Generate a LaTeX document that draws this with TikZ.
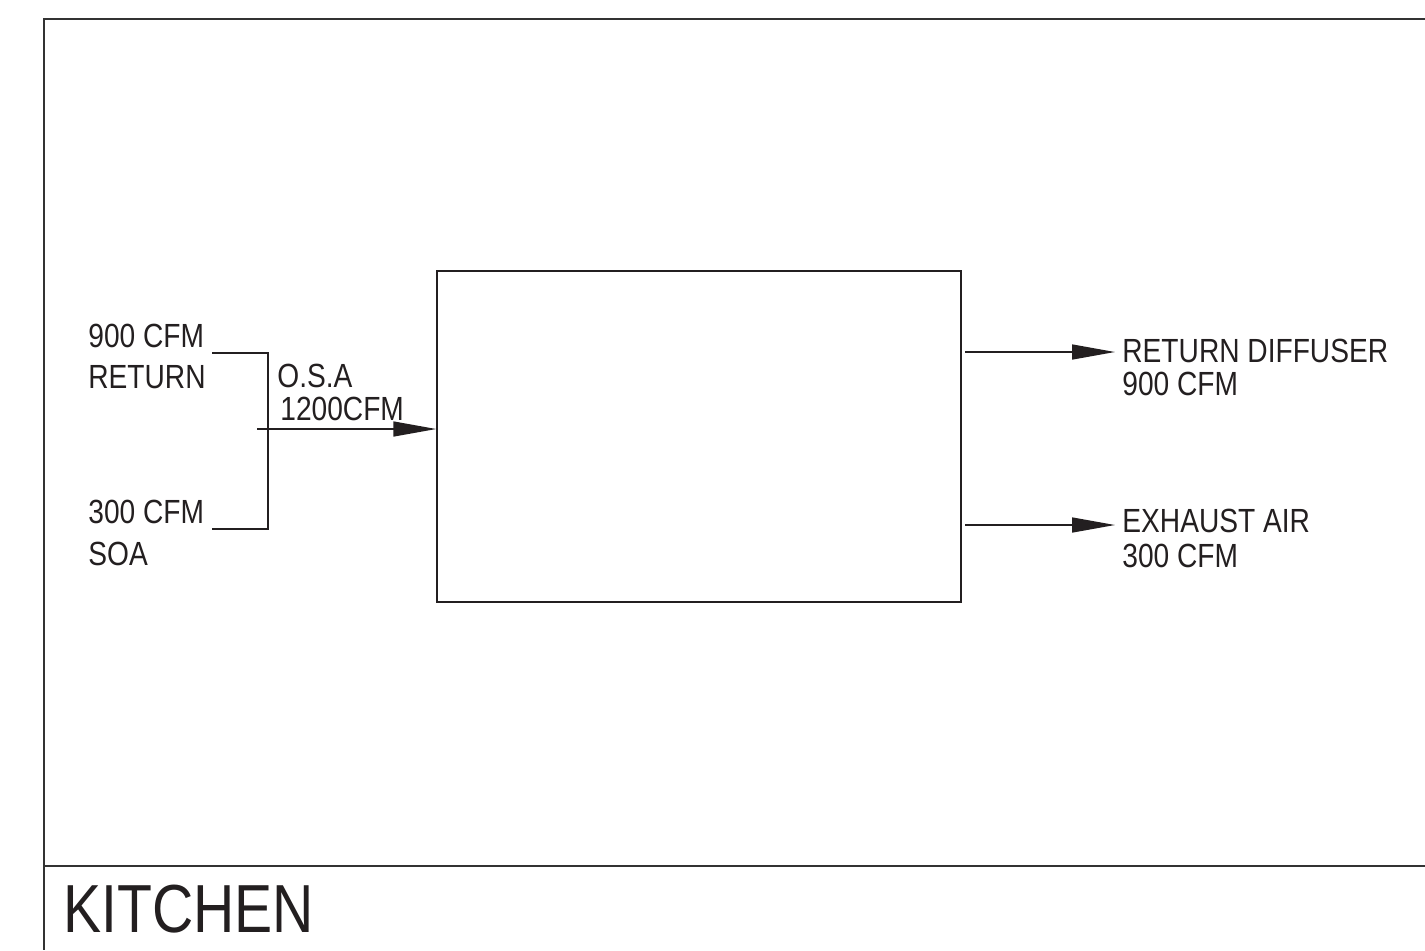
\documentclass[tikz,border=0pt]{standalone}
\usepackage{fontspec}
\setmainfont[FakeStretch=0.84]{Liberation Sans}
\usetikzlibrary{arrows.meta}
\definecolor{framec}{RGB}{51,51,51}
\definecolor{inkc}{RGB}{35,31,32}

\begin{document}
\begin{tikzpicture}[x=0.5pt,y=-0.5pt,>={Triangle[length=21.5pt,width=7.5pt]},
  lbl/.style={inkc,anchor=base west,inner sep=0pt,font=\fontsize{16.75}{20}\selectfont},
  flow/.style={inkc,line width=0.75pt,->},
  pipe/.style={inkc,line width=0.75pt}]
\useasboundingbox (0,0) rectangle (1425,950);
% sheet frame
\draw[framec,line width=1pt] (1425,19) -- (44,19) -- (44,950);
\draw[framec,line width=1pt] (44,866) -- (1425,866);
\node[inkc,anchor=base west,inner sep=0pt,font=\fontsize{34}{40}\selectfont] (title) at (63,932) {KITCHEN};
% unit
\node[draw=inkc,line width=0.75pt,minimum width=262pt,minimum height=165.5pt,inner sep=0pt] (ahu) at (699,436.5) {};
% inlets
\node[lbl] (retcfm) at (88,347) {900 CFM}; \node[lbl] (ret) at (88,388) {RETURN};
\node[lbl] (soacfm) at (88,523) {300 CFM}; \node[lbl] (soa) at (88,565) {SOA};
\node[lbl] (osa) at (277,387) {O.S.A}; \node[lbl] (osacfm) at (280,420) {1200CFM};
\coordinate (rtop) at (212,353); \coordinate (rbot) at (212,529); \coordinate (mix) at (257,429);
\draw[pipe] (rtop) -- ++(56,0) |- (rbot);
\draw[flow] (mix) -- (mix -| ahu.west);
% outlets
\node[lbl] (diff) at (1122,362) {RETURN DIFFUSER}; \node[lbl] (diffcfm) at (1122,395) {900 CFM};
\node[lbl] (exh) at (1122,532) {EXHAUST AIR}; \node[lbl] (exhcfm) at (1122,567) {300 CFM};
\coordinate (out1) at (965,352); \coordinate (out2) at (965,525);
\draw[flow,shorten >=3.5pt] (out1) -- (out1 -| diff.west);
\draw[flow,shorten >=3.5pt] (out2) -- (out2 -| exh.west);
\end{tikzpicture}
\end{document}
